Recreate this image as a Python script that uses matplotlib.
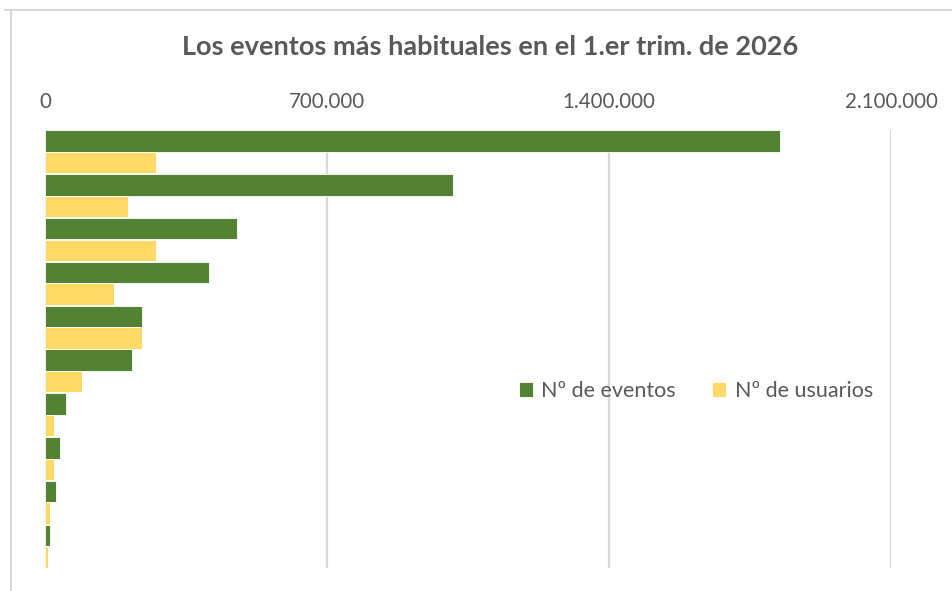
import matplotlib
matplotlib.use("Agg")
import matplotlib.pyplot as plt
import numpy as np

plt.rcParams['font.family'] = ['Lato', 'DejaVu Sans']

categories = ["E1", "E2", "E3", "E4", "E5", "E6", "E7", "E8", "E9", "E10"]
eventos = [1824000, 1013000, 476600, 407000, 240800, 216000, 52100, 37200, 27300, 12400]
usuarios = [275500, 206000, 275500, 171300, 240800, 91800, 22300, 22300, 12400, 7400]
tick_vals = [0, 700000, 1400000, 2100000]
tick_labels = ["0", "700.000", "1.400.000", "2.100.000"]

GREEN = "#548235"
YELLOW = "#FFD966"
TXT = "#595959"
GRID = "#D9D9D9"

fig = plt.figure(figsize=(9.53, 5.91), dpi=100)
ax = fig.add_axes([45/953, 1-568/591, (891-45)/953, (568-130)/591])

y = np.arange(len(categories))
h = 0.49
ax.barh(y - h/2, eventos, height=h, color=GREEN, edgecolor="white", linewidth=0.6, label="Nº de eventos", zorder=3)
ax.barh(y + h/2, usuarios, height=h, color=YELLOW, edgecolor="white", linewidth=0.6, label="Nº de usuarios", zorder=3)

ax.set_xlim(0, 2100000)
ax.set_ylim(len(categories) - 0.5, -0.5)
ax.xaxis.tick_top()
ax.set_xticks(tick_vals)
ax.set_xticklabels(tick_labels, fontsize=14.8, color=TXT)
ax.tick_params(axis='x', length=0, pad=13)
ax.set_yticks([])
for s in ax.spines.values():
    s.set_visible(False)
ax.grid(axis='x', color=GRID, linewidth=1.6, zorder=0)
ax.set_axisbelow(True)

fig.text(490/953, 1-47/591, "Los eventos más habituales en el 1.er trim. de 2026",
         ha='center', va='center', fontsize=19.5, fontweight='bold', color=TXT)

leg = fig.legend(loc='center', bbox_to_anchor=(696/953, 1-391/591), ncol=2, frameon=False,
                 fontsize=15.5, handlelength=0.65, handleheight=0.65, handletextpad=0.4,
                 columnspacing=1.7)
for t in leg.get_texts():
    t.set_color(TXT)

# chart border (partial, as in the crop)
fig.add_artist(plt.Line2D([5/953, 1], [1-10/591, 1-10/591], color=GRID, linewidth=1.5, transform=fig.transFigure))
fig.add_artist(plt.Line2D([11/953, 11/953], [0, 1-10/591], color=GRID, linewidth=1.5, transform=fig.transFigure))

fig.savefig("out.png", dpi=100)
